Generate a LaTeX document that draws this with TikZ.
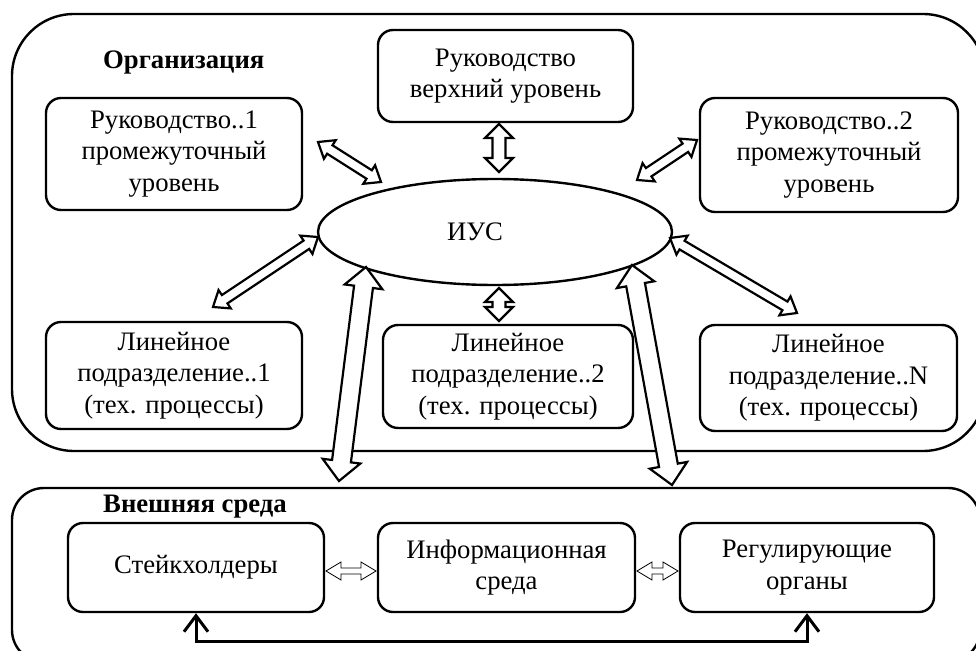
\documentclass[tikz,border=0pt]{standalone}
\usepackage{fontspec}
\setmainfont{Liberation Serif}
\usetikzlibrary{calc,shapes.geometric,arrows.meta}

% Double-headed hollow block arrow from #2 to #3:
% #4 = shaft half width, #5 = head half width, #6 = head length
\newcommand\hollowarrow[6][]{%
  \draw[blockarrow,#1] (#2)
    -- ($(#2)!#6!(#3)!#5!90:(#3)$) -- ($(#2)!#6!(#3)!#4!90:(#3)$)
    -- ($(#3)!#6!(#2)!#4!-90:(#2)$) -- ($(#3)!#6!(#2)!#5!-90:(#2)$)
    -- (#3)
    -- ($(#3)!#6!(#2)!#5!90:(#2)$) -- ($(#3)!#6!(#2)!#4!90:(#2)$)
    -- ($(#2)!#6!(#3)!#4!-90:(#3)$) -- ($(#2)!#6!(#3)!#5!-90:(#3)$)
    -- cycle;}

\begin{document}
\begin{tikzpicture}[x=1pt,y=-1pt,
  every node/.style={font=\fontsize{26.7}{31.5}\selectfont, align=center},
  container/.style={draw, line width=2.4pt, rounded corners=#1},
  unit/.style={draw, line width=2.4pt, rounded corners=15pt, inner sep=0pt},
  heading/.style={font=\fontsize{26.7}{31.5}\selectfont\bfseries, anchor=base west, inner sep=0pt},
  blockarrow/.style={draw, fill=white, line width=2.2pt, line join=miter},
  thinarrow/.style={line width=0.8pt},
  loopline/.style={line width=3pt, {Straight Barb[length=16pt,width=24pt]}-{Straight Barb[length=16pt,width=24pt]}}
]
\useasboundingbox (0,0) rectangle (976,650);
\clip (0,0) rectangle (976,650);

% outer frames
\draw[container=62pt] (12,14) rectangle (985,451);
\draw[container=32pt] (12,488) rectangle (980,662);

\node[heading] (org) at (103,69) {Организация};
\node[heading] (env) at (103,512) {Внешняя среда};

% organisation units
\node[unit, minimum width=255pt, minimum height=92pt] (top) at (505.5,76) {Руководство\\верхний уровень};
\node[unit, minimum width=256pt, minimum height=112pt] (tl) at (174,154) {Руководство..1\\промежуточный\\уровень};
\node[unit, minimum width=258pt, minimum height=114pt] (tr) at (829,155) {Руководство..2\\промежуточный\\уровень};
\node[unit, minimum width=256pt, minimum height=107pt] (bl) at (174,375.5) {Линейное\\подразделение..1\\(тех. процессы)};
\node[unit, minimum width=250pt, minimum height=103pt] (bc) at (508,376.5) {Линейное\\подразделение..2\\(тех. процессы)};
\node[unit, minimum width=257pt, minimum height=106pt] (br) at (828.5,378) {Линейное\\подразделение..N\\(тех. процессы)};

\node[draw, ellipse, line width=2.4pt, minimum width=354pt, minimum height=106pt, inner sep=0pt] (ius) at (495,232) {};
\node (iuslabel) at (475,232) {ИУС};

% external environment
\node[unit, minimum width=256pt, minimum height=89pt] (sk) at (196,567.5) {Стейкхолдеры};
\node[unit, minimum width=257pt, minimum height=89pt] (info) at (506.5,567.5) {Информационная\\среда};
\node[unit, minimum width=254pt, minimum height=89pt] (reg) at (807,567.5) {Регулирующие\\органы};

% arrow end points
\coordinate (a1) at (318,142);  \coordinate (a2) at (381,182);
\coordinate (b1) at (499,124);  \coordinate (b2) at (499,172);
\coordinate (c1) at (637,180);  \coordinate (c2) at (697,140);
\coordinate (d1) at (213,307);  \coordinate (d2) at (318,237);
\coordinate (e1) at (670,238);  \coordinate (e2) at (797,313);
\coordinate (f1) at (499,288);  \coordinate (f2) at (499,321);
\coordinate (g1) at (366,267);  \coordinate (g2) at (339,481);
\coordinate (h1) at (632,265);  \coordinate (h2) at (672,485);
\coordinate (s1) at (326,571);  \coordinate (s2) at (376,571);
\coordinate (s3) at (637,571);  \coordinate (s4) at (678,571);

\hollowarrow{a1}{a2}{5pt}{11pt}{14pt}
\hollowarrow{b1}{b2}{6.5pt}{14pt}{14pt}
\hollowarrow{c1}{c2}{5pt}{11pt}{14pt}
\hollowarrow{d1}{d2}{5pt}{11pt}{14pt}
\hollowarrow{e1}{e2}{5pt}{11pt}{14pt}
\hollowarrow{f1}{f2}{6.5pt}{14pt}{14pt}
\hollowarrow{g1}{g2}{9.5pt}{19pt}{20pt}
\hollowarrow{h1}{h2}{9.5pt}{19pt}{20pt}
\hollowarrow[thinarrow]{s1}{s2}{3pt}{9pt}{15pt}
\hollowarrow[thinarrow]{s3}{s4}{3pt}{9pt}{15pt}

% feedback link between stakeholders and regulators
\draw[loopline] (sk.south) -- ++(0,28) -| (reg.south);
\end{tikzpicture}
\end{document}
